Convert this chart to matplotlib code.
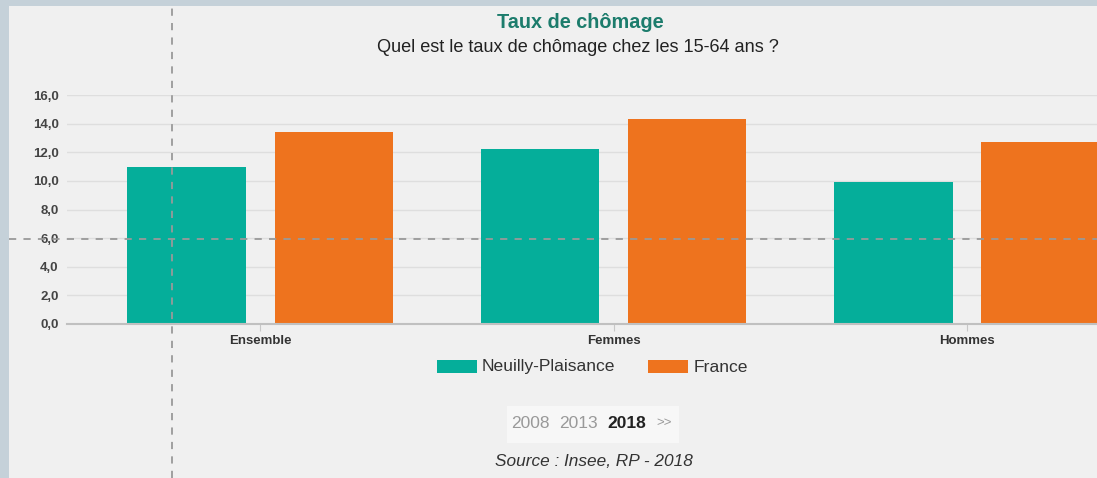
import matplotlib
matplotlib.use("Agg")
import matplotlib.pyplot as plt
from matplotlib.patches import Rectangle
from matplotlib.lines import Line2D
import numpy as np

plt.rcParams['font.family'] = ['Liberation Sans', 'DejaVu Sans']

categories = ["Ensemble", "Femmes", "Hommes"]
series_names = ["Neuilly-Plaisance", "France"]
neuilly = [11.0, 12.2, 9.9]
france = [13.4, 14.3, 12.7]
yticks = [0, 2, 4, 6, 8, 10, 12, 14, 16]
ytick_labels = ["0,0", "2,0", "4,0", "6,0", "8,0", "10,0", "12,0", "14,0", "16,0"]
years = ["2008", "2013", "2018"]

W, H = 1097, 478
BORDER = "#c5d1d9"
PANEL = "#f0f0f0"
TEAL = "#05ae9a"
ORANGE = "#ee731e"

fig = plt.figure(figsize=(W / 100, H / 100), dpi=100)
fig.patch.set_facecolor(BORDER)
fig.patches.append(Rectangle((9 / W, 0), 1 - 9 / W, (H - 6) / H,
                             transform=fig.transFigure, facecolor=PANEL,
                             edgecolor="none", zorder=-5))

def fx(px):
    return px / W

def fy(py):
    return 1 - py / H

ax = fig.add_axes([fx(67), fy(324), fx(W) - fx(67), fy(95) - fy(324)])
ax.set_zorder(1)
ax.set_facecolor("none")
x = np.arange(len(categories))
bw = 0.334
off = 0.208
ax.bar(x - off, neuilly, bw, color=TEAL, zorder=3, label=series_names[0])
ax.bar(x + off, france, bw, color=ORANGE, zorder=3, label=series_names[1])
ax.set_xlim(-0.546, (W - 260) / 353.5)
ax.set_ylim(0, 16)
ax.set_yticks(yticks)
ax.set_yticklabels(ytick_labels)
ax.set_xticks(x)
ax.set_xticklabels(categories)
for s in ["top", "right", "left"]:
    ax.spines[s].set_visible(False)
ax.spines["bottom"].set_color("#c0c0c0")
ax.spines["bottom"].set_linewidth(1.5)
ax.spines["bottom"].set_zorder(4)
ax.grid(axis="y", color="#dedede", linewidth=1, zorder=1)
ax.tick_params(axis="y", length=0, pad=6, labelsize=9.5, labelcolor="#444444")
ax.tick_params(axis="x", length=5, color="#c8c8c8", pad=3, labelsize=9.5,
               labelcolor="#333333")
for lab in ax.get_yticklabels() + ax.get_xticklabels():
    lab.set_fontweight("bold")

# Titles
fig.text(fx(580), fy(22), "Taux de chômage", ha="center", va="center",
         fontsize=14.3, fontweight="bold", color="#1c7c6c")
fig.text(fx(578), fy(48), "Quel est le taux de chômage chez les 15-64 ans ?",
         ha="center", va="center", fontsize=13.1, color="#222222")

# Legend
fig.patches.append(Rectangle((fx(437), fy(373)), fx(477) - fx(437), fy(360) - fy(373),
                             transform=fig.transFigure, facecolor=TEAL, edgecolor="none"))
fig.text(fx(482), fy(367), series_names[0], ha="left", va="center",
         fontsize=12.6, color="#333333")
fig.patches.append(Rectangle((fx(648), fy(373)), fx(688) - fx(648), fy(360) - fy(373),
                             transform=fig.transFigure, facecolor=ORANGE, edgecolor="none"))
fig.text(fx(694), fy(367), series_names[1], ha="left", va="center",
         fontsize=12.6, color="#333333")

# Year selector
fig.patches.append(Rectangle((fx(507), fy(443)), fx(679) - fx(507), fy(406) - fy(443),
                             transform=fig.transFigure, facecolor="#f7f7f7", edgecolor="none"))
fig.text(fx(511), fy(423), years[0], ha="left", va="center", fontsize=12.5, color="#999999")
fig.text(fx(559), fy(423), years[1], ha="left", va="center", fontsize=12.5, color="#999999")
fig.text(fx(607), fy(423), years[2], ha="left", va="center", fontsize=12.5,
         color="#222222", fontweight="bold")
fig.text(fx(656), fy(423), ">>", ha="left", va="center", fontsize=9.5, color="#999999")

fig.text(fx(594), fy(462), "Source : Insee, RP - 2018", ha="center", va="center",
         fontsize=12.4, color="#333333", style="italic")

# Crosshair
fig.lines.append(Line2D([fx(172), fx(172)], [fy(478), fy(8)], transform=fig.transFigure,
                        color="#999999", linewidth=1.3, linestyle=(0, (4, 4)), zorder=10))
fig.lines.append(Line2D([fx(9), fx(W)], [fy(239), fy(239)], transform=fig.transFigure,
                        color="#999999", linewidth=1.3, linestyle=(0, (4, 4)), zorder=10))

fig.savefig("out.png", dpi=100, facecolor=fig.get_facecolor())
